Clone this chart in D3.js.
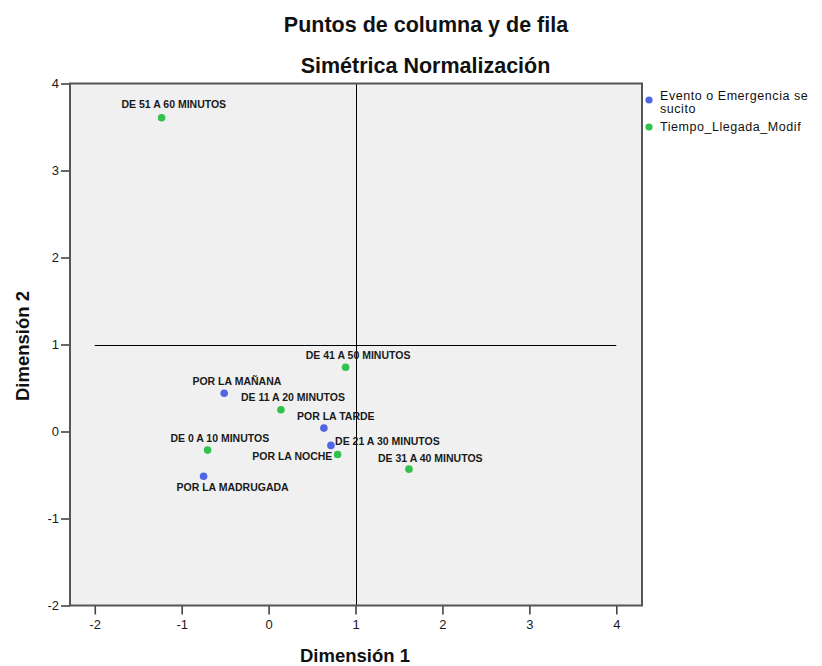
<!DOCTYPE html>
<html>
<head>
<meta charset="utf-8">
<script src="https://cdn.jsdelivr.net/npm/d3@7"></script>
<style>
  body { margin: 0; background: #fff; }
  svg { display: block; font-family: "Liberation Sans", Arial, sans-serif; }
</style>
</head>
<body>
<svg id="chart" width="822" height="666"></svg>
<script>
// ---- data ----
const titleLines = ["Puntos de columna y de fila", "Simétrica Normalización"];
const xTitle = "Dimensión 1";
const yTitle = "Dimensión 2";
const xTicks = [-2, -1, 0, 1, 2, 3, 4];
const yTicks = [-2, -1, 0, 1, 2, 3, 4];
const legendLines = [["Evento o Emergencia se", "sucito"], ["Tiempo_Llegada_Modif"]];

const eventoLabels = ["POR LA MAÑANA", "POR LA TARDE", "POR LA NOCHE", "POR LA MADRUGADA"];
const eventoDim1 = [-0.511, 0.636, 0.717, -0.748];
const eventoDim2 = [0.439, 0.039, -0.160, -0.514];

const tiempoLabels = ["DE 0 A 10 MINUTOS", "DE 11 A 20 MINUTOS", "DE 21 A 30 MINUTOS",
                      "DE 31 A 40 MINUTOS", "DE 41 A 50 MINUTOS", "DE 51 A 60 MINUTOS"];
const tiempoDim1 = [-0.702, 0.142, 0.794, 1.615, 0.886, -1.231];
const tiempoDim2 = [-0.214, 0.250, -0.264, -0.433, 0.738, 3.606];

// reference lines (value positions)
const refH = { y: 1, x1: -2, x2: 4 };
const refV = { x: 1 };

// ---- layout / style (label nudges in px, relative to point) ----
const eventoNudge = [[12.7, -11.6], [11.9, -12], [-38.6, 11], [29, 10.7]];
const tiempoNudge = [[12.2, -12], [12, -12], [49.8, -13], [21.3, -11.3], [12.5, -12.3], [12.2, -13.3]];
const colors = ["#5065e6", "#31c24b"];

const svg = d3.select("#chart");
const plot = { left: 70, right: 642, top: 83.5, bottom: 605.5 };

const x = d3.scaleLinear().domain([-2.285, 4.296]).range([plot.left, plot.right]);
const y = d3.scaleLinear().domain([4, -2]).range([plot.top, plot.bottom]);

// titles
svg.append("text").attr("x", 426).attr("y", 31.5).attr("text-anchor", "middle")
  .attr("font-size", 21.5).attr("font-weight", "bold").attr("fill", "#111").text(titleLines[0]);
svg.append("text").attr("x", 425.5).attr("y", 72.5).attr("text-anchor", "middle")
  .attr("font-size", 21.5).attr("font-weight", "bold").attr("fill", "#111").text(titleLines[1]);

// plot background
svg.append("rect").attr("x", plot.left).attr("y", plot.top)
  .attr("width", plot.right - plot.left).attr("height", plot.bottom - plot.top)
  .attr("fill", "#f0f0f0");

// reference lines
svg.append("line").attr("x1", x(refH.x1)).attr("x2", x(refH.x2))
  .attr("y1", Math.round(y(refH.y)) + 0.5).attr("y2", Math.round(y(refH.y)) + 0.5)
  .attr("stroke", "#000").attr("stroke-width", 1);
svg.append("line").attr("x1", Math.round(x(refV.x)) + 0.5).attr("x2", Math.round(x(refV.x)) + 0.5)
  .attr("y1", plot.top).attr("y2", plot.bottom)
  .attr("stroke", "#000").attr("stroke-width", 1);

// axes
const yAxis = d3.axisLeft(y).tickValues(yTicks).tickSize(9).tickPadding(2).tickFormat(d3.format("d"));
const gy = svg.append("g").attr("transform", `translate(${plot.left},0)`).call(yAxis);
const xAxis = d3.axisBottom(x).tickValues(xTicks).tickSize(9).tickPadding(5).tickFormat(d3.format("d"));
const gx = svg.append("g").attr("transform", `translate(0,${plot.bottom})`).call(xAxis);
[gx, gy].forEach(g => {
  g.select(".domain").remove();
  g.selectAll(".tick line").attr("stroke", "#444").attr("stroke-width", 1.6);
  g.selectAll(".tick text").attr("font-size", 13).attr("fill", "#1a1a1a")
    .attr("font-family", "'Liberation Sans', Arial, sans-serif")
    .text(d => d < 0 ? "-" + Math.abs(d) : d);
});

// frame
svg.append("rect").attr("x", plot.left).attr("y", plot.top)
  .attr("width", plot.right - plot.left).attr("height", plot.bottom - plot.top)
  .attr("fill", "none").attr("stroke", "#555").attr("stroke-width", 2);

// axis titles
svg.append("text").attr("x", 355).attr("y", 662).attr("text-anchor", "middle")
  .attr("font-size", 18.5).attr("font-weight", "bold").attr("fill", "#111").text(xTitle);
svg.append("text").attr("transform", "translate(28.5,346) rotate(-90)").attr("text-anchor", "middle")
  .attr("font-size", 18.5).attr("font-weight", "bold").attr("fill", "#111").text(yTitle);

// points
function drawSeries(labels, d1, d2, nudge, color) {
  const data = labels.map((l, i) => ({ label: l, x: d1[i], y: d2[i], n: nudge[i] }));
  const g = svg.append("g");
  g.selectAll("circle").data(data).join("circle")
    .attr("cx", d => x(d.x)).attr("cy", d => y(d.y)).attr("r", 3.8).attr("fill", color);
  return data;
}
const evData = drawSeries(eventoLabels, eventoDim1, eventoDim2, eventoNudge, colors[0]);
const tiData = drawSeries(tiempoLabels, tiempoDim1, tiempoDim2, tiempoNudge, colors[1]);

// labels (drawn after points)
const lg = svg.append("g");
lg.selectAll("text").data(evData.concat(tiData)).join("text")
  .attr("x", d => x(d.x) + d.n[0]).attr("y", d => y(d.y) + d.n[1] + 3.7)
  .attr("text-anchor", "middle").attr("font-size", 10.5).attr("font-weight", "bold")
  .attr("fill", "#1a1a1a").text(d => d.label);

// legend
const legendDotY = [100, 127];
const legendTextY = [[99.5, 113], [131]];
const leg = svg.append("g");
legendLines.forEach((lines, i) => {
  leg.append("circle").attr("cx", 649).attr("cy", legendDotY[i]).attr("r", 3.6).attr("fill", colors[i]);
  lines.forEach((t, j) => {
    leg.append("text").attr("x", 660).attr("y", legendTextY[i][j])
      .attr("font-size", 12.5).attr("letter-spacing", 0.55).attr("fill", "#111").text(t);
  });
});
</script>
</body>
</html>
